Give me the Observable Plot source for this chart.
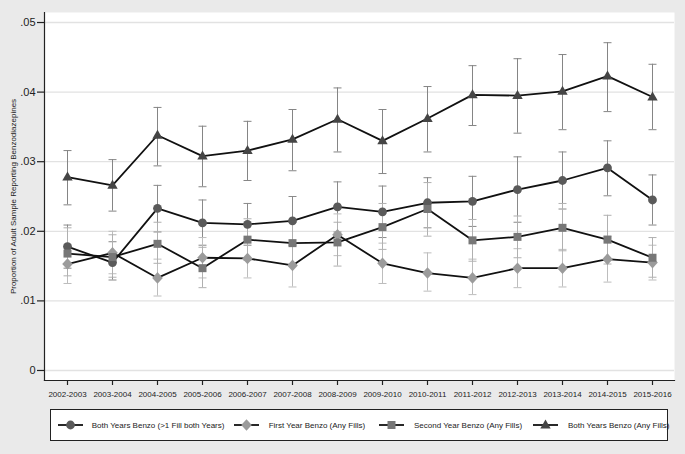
<!DOCTYPE html>
<html><head><meta charset="utf-8">
<script src="https://cdn.jsdelivr.net/npm/d3@7"></script>
<script src="https://cdn.jsdelivr.net/npm/@observablehq/plot@0.6"></script>
<style>
html,body{margin:0;padding:0;background:#eaeaea;}
#wrap{position:relative;width:685px;height:454px;overflow:hidden;background:#eaeaea;font-family:"Liberation Sans",Arial,sans-serif;}
#chart{position:absolute;left:0;top:0;}
#legend{position:absolute;left:50px;top:409px;width:616px;height:30px;border:1px solid #222;background:#fff;}
.item{position:absolute;top:0;height:30px;}
.item svg{position:absolute;top:0;left:0;}
.item span{position:absolute;top:50%;transform:translateY(-50%);font-size:8px;color:#222;white-space:nowrap;}
</style></head><body><div id="wrap"><div id="chart"></div><div id="legend"></div></div>
<script>
// ---- data ----
const years = ["2002-2003","2003-2004","2004-2005","2005-2006","2006-2007","2007-2008","2008-2009","2009-2010","2010-2011","2011-2012","2012-2013","2013-2014","2014-2015","2015-2016"];
const seriesNames = ["Both Years Benzo (>1 Fill both Years)","First Year Benzo (Any Fills)","Second Year Benzo (Any Fills)","Both Years Benzo (Any Fills)"];
const yTicks = [0, 0.01, 0.02, 0.03, 0.04, 0.05];
const yLabel = "Proportion of Adult Sample Reporting Benzodiazepines";

const bothFill   = [0.0178,0.0155,0.0233,0.0212,0.0210,0.0215,0.0235,0.0228,0.0241,0.0243,0.0260,0.0273,0.0291,0.0245];
const bothFillHi = [0.0209,0.0185,0.0266,0.0245,0.0240,0.0250,0.0271,0.0265,0.0277,0.0279,0.0307,0.0314,0.0330,0.0281];
const bothFillLo = [0.0147,0.0130,0.0199,0.0180,0.0180,0.0180,0.0199,0.0191,0.0205,0.0207,0.0213,0.0232,0.0251,0.0209];

const firstYear   = [0.0153,0.0169,0.0133,0.0162,0.0161,0.0151,0.0195,0.0154,0.0140,0.0133,0.0147,0.0147,0.0160,0.0155];
const firstYearHi = [0.0181,0.0200,0.0160,0.0191,0.0189,0.0182,0.0225,0.0183,0.0169,0.0160,0.0175,0.0174,0.0193,0.0180];
const firstYearLo = [0.0125,0.0139,0.0107,0.0133,0.0133,0.0120,0.0165,0.0125,0.0114,0.0109,0.0119,0.0120,0.0127,0.0130];

const secondYear   = [0.0168,0.0163,0.0182,0.0147,0.0188,0.0183,0.0184,0.0206,0.0232,0.0187,0.0192,0.0205,0.0188,0.0162];
const secondYearHi = [0.0205,0.0195,0.0213,0.0177,0.0218,0.0213,0.0213,0.0240,0.0270,0.0217,0.0222,0.0240,0.0223,0.0191];
const secondYearLo = [0.0136,0.0134,0.0154,0.0119,0.0158,0.0153,0.0150,0.0174,0.0193,0.0157,0.0162,0.0172,0.0153,0.0134];

const bothAny   = [0.0278,0.0266,0.0338,0.0308,0.0316,0.0332,0.0361,0.0330,0.0362,0.0396,0.0395,0.0401,0.0423,0.0393];
const bothAnyHi = [0.0316,0.0303,0.0378,0.0351,0.0358,0.0375,0.0406,0.0375,0.0408,0.0438,0.0448,0.0454,0.0471,0.0440];
const bothAnyLo = [0.0238,0.0229,0.0294,0.0264,0.0273,0.0287,0.0314,0.0283,0.0314,0.0352,0.0341,0.0346,0.0372,0.0346];

// ---- symbols ----
const symCircle = {draw(c){ c.moveTo(4.4,0); c.arc(0,0,4.4,0,2*Math.PI); }};
const symDiamond = {draw(c){ c.moveTo(0,-5.8); c.lineTo(5.3,0); c.lineTo(0,5.8); c.lineTo(-5.3,0); c.closePath(); }};
const symSquare = {draw(c){ c.rect(-4,-4,8,8); }};
const symTriangle = {draw(c){ c.moveTo(0,-5.6); c.lineTo(5.2,3.4); c.lineTo(-5.2,3.4); c.closePath(); }};
const symCap = {draw(c){ c.moveTo(-4,0); c.lineTo(4,0); }};

const series = [
  {name: seriesNames[0], v: bothFill, lo: bothFillLo, hi: bothFillHi, sym: symCircle, fill: "#5a5a5a", err: "#8a8a8a"},
  {name: seriesNames[1], v: firstYear, lo: firstYearLo, hi: firstYearHi, sym: symDiamond, fill: "#9b9b9b", err: "#bdbdbd"},
  {name: seriesNames[2], v: secondYear, lo: secondYearLo, hi: secondYearHi, sym: symSquare, fill: "#777777", err: "#b0b0b0"},
  {name: seriesNames[3], v: bothAny, lo: bothAnyLo, hi: bothAnyHi, sym: symTriangle, fill: "#454545", err: "#858585"}
];
series.forEach(s => s.rows = years.map((y,i) => ({year: y, value: s.v[i], lo: s.lo[i], hi: s.hi[i]})));

const errMarks = series.flatMap(s => [
  Plot.ruleX(s.rows, {x: "year", y1: "lo", y2: "hi", stroke: s.err, strokeWidth: 1}),
  Plot.dot(s.rows, {x: "year", y: "lo", symbol: symCap, stroke: s.err, strokeWidth: 1, fill: "none"}),
  Plot.dot(s.rows, {x: "year", y: "hi", symbol: symCap, stroke: s.err, strokeWidth: 1, fill: "none"})
]);
const lineMarks = series.map(s => Plot.line(s.rows, {x: "year", y: "value", stroke: "#111", strokeWidth: 1.8}));
const dotMarks = series.map(s => Plot.dot(s.rows, {x: "year", y: "value", symbol: s.sym, fill: s.fill, stroke: "none"}));

const plot = Plot.plot({
  width: 685, height: 404,
  marginLeft: 44, marginRight: 11, marginTop: 12, marginBottom: 24,
  style: {background: "transparent", fontFamily: "'Liberation Sans', Arial, sans-serif", color: "#222", overflow: "visible"},
  x: {type: "point", domain: years, padding: 0.5, label: null},
  y: {domain: [-0.00144, 0.05144], label: null},
  marks: [
    Plot.frame({fill: "white", stroke: "none"}),
    Plot.ruleY(yTicks, {stroke: "#e2e2e2", strokeWidth: 1.3}),
    ...errMarks,
    ...lineMarks,
    ...dotMarks,
    Plot.axisX({tickSize: 5, tickPadding: 6, fontSize: 8, stroke: "#222", strokeWidth: 1.2}),
    Plot.axisY({ticks: yTicks, tickFormat: d => d === 0 ? "0" : d3.format(".2f")(d).replace(/^0/, ""), tickSize: 7, tickPadding: 2, fontSize: 11, stroke: "#222", strokeWidth: 1.2, label: null}),
    Plot.frame({anchor: "left", stroke: "#222", strokeWidth: 1.2}),
    Plot.frame({anchor: "bottom", stroke: "#222", strokeWidth: 1.2}),
    Plot.text([yLabel], {frameAnchor: "left", textAnchor: "middle", dx: -31, rotate: -90, fontSize: 8, fill: "#222", text: d => d})
  ]
});
document.getElementById("chart").appendChild(plot);

// ---- legend ----
const legendPos = [{line: 7, text: 40.7}, {line: 183, text: 217.7}, {line: 328, text: 363}, {line: 482, text: 517}];
const lg = document.getElementById("legend");
series.forEach((s, i) => {
  const p = legendPos[i];
  const it = document.createElement("div");
  it.className = "item";
  it.style.left = p.line + "px";
  const svg = d3.create("svg").attr("width", 30).attr("height", 30);
  svg.append("line").attr("x1", 0).attr("x2", 25).attr("y1", 15).attr("y2", 15).attr("stroke", "#111").attr("stroke-width", 1.8);
  svg.append("path").attr("d", d3.symbol(s.sym)()).attr("transform", "translate(12.5,15)").attr("fill", s.fill);
  it.appendChild(svg.node());
  const sp = document.createElement("span");
  sp.textContent = s.name;
  sp.style.left = (p.text - p.line) + "px";
  it.appendChild(sp);
  lg.appendChild(it);
});
</script></body></html>
